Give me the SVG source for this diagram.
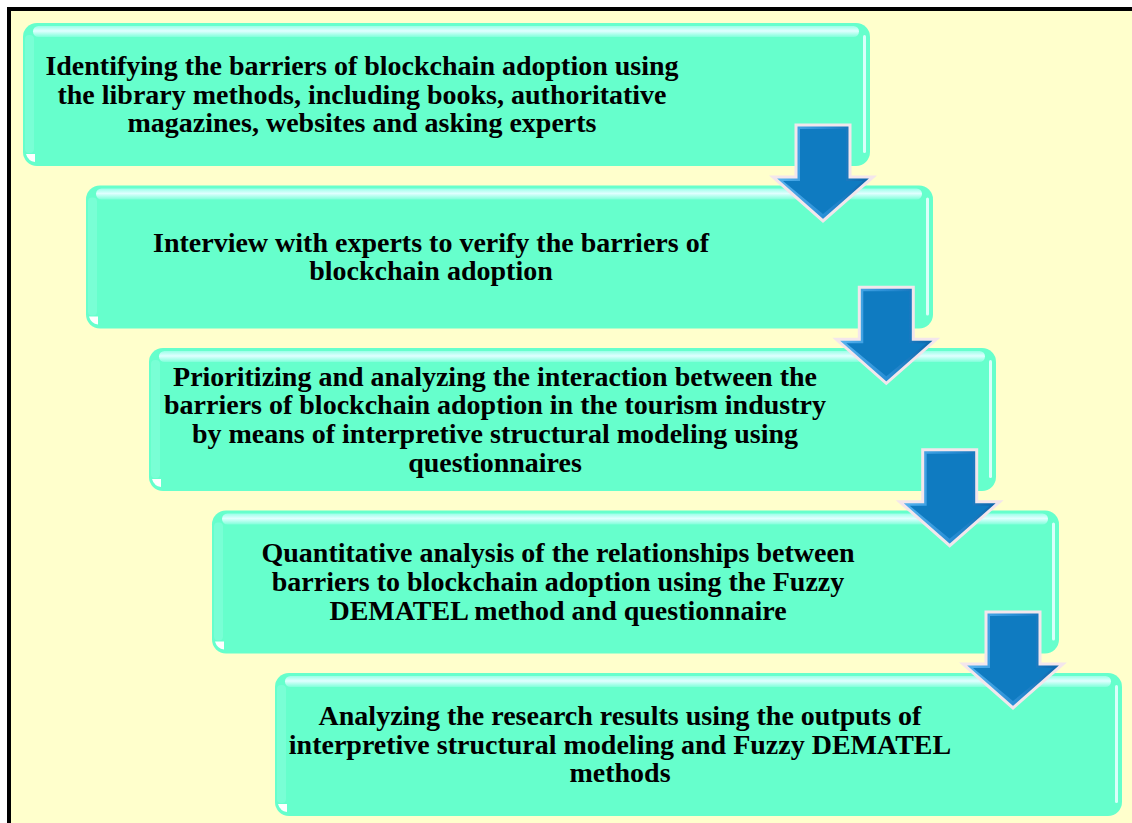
<svg xmlns="http://www.w3.org/2000/svg" xmlns:xlink="http://www.w3.org/1999/xlink" width="1132" height="823" viewBox="0 0 1132 823">
<style>
.frame{fill:#FFFFCC;stroke:#000000;stroke-width:4}
.box{fill:#66FFCC}
.top{fill:url(#gTop)}
.lft{fill:#88FFDD;opacity:0.55}
.rgt{fill:#E6FFFF;opacity:0.9}
.bl{fill:#FFFFFF}
.lbl{font-family:"Liberation Serif","Times New Roman",serif;font-weight:bold;font-size:28px;fill:#000000;text-anchor:middle}
.arOut{fill:url(#gArrow);stroke:#F3E6EC;stroke-width:3;stroke-linejoin:miter}
.arIn{fill:#0F7BC1}
</style>
<defs>
<linearGradient id="gTop" x1="0" y1="0" x2="0" y2="1">
<stop offset="0" stop-color="#9AFFE8"/>
<stop offset="0.45" stop-color="#E0FFFF"/>
<stop offset="1" stop-color="#80FFDA"/>
</linearGradient>
<linearGradient id="gArrow" x1="0" y1="0" x2="1" y2="0">
<stop offset="0" stop-color="#5AB6F0"/>
<stop offset="0.5" stop-color="#2A8FD6"/>
<stop offset="1" stop-color="#0A62A6"/>
</linearGradient>
<g id="boxShape">
<rect class="box" width="847" height="143" rx="14"/>
<rect class="lft" x="2" y="12" width="9" height="118" rx="4"/>
<rect class="top" x="10" y="3" width="826" height="11" rx="5.5"/>
<rect class="rgt" x="840" y="12" width="3" height="118" rx="1.5"/>
<path class="bl" d="M3,131 L12,131 L12,139 Q5,138 3,131Z"/>
</g>
<g id="arrowShape">
<polygon class="arOut" points="-27,0 27,0 27,52 50,52 0,96 -50,52 -27,52"/>
<polygon class="arIn" points="-23,4 23,4 23,56 40,56 0,89 -40,56 -23,56"/>
</g>
</defs>
<rect class="frame" x="9" y="9" width="1130" height="820"/>

<g id="node1" transform="translate(23,23)">
<use xlink:href="#boxShape" href="#boxShape"/>
<text class="lbl" x="339" y="51.8">Identifying the barriers of blockchain adoption using</text>
<text class="lbl" x="339" y="80.5">the library methods, including books, authoritative</text>
<text class="lbl" x="339" y="109.2">magazines, websites and asking experts</text>
</g>
<g id="node2" transform="translate(86,185.5)">
<use xlink:href="#boxShape" href="#boxShape"/>
<text class="lbl" x="345" y="66.2">Interview with experts to verify the barriers of</text>
<text class="lbl" x="345" y="94.9">blockchain adoption</text>
</g>
<g id="node3" transform="translate(149,348)">
<use xlink:href="#boxShape" href="#boxShape"/>
<text class="lbl" x="346" y="37.5">Prioritizing and analyzing the interaction between the</text>
<text class="lbl" x="346" y="66.2">barriers of blockchain adoption in the tourism industry</text>
<text class="lbl" x="346" y="94.9">by means of interpretive structural modeling using</text>
<text class="lbl" x="346" y="123.6">questionnaires</text>
</g>
<g id="node4" transform="translate(212,510.5)">
<use xlink:href="#boxShape" href="#boxShape"/>
<text class="lbl" x="346" y="51.8">Quantitative analysis of the relationships between</text>
<text class="lbl" x="346" y="80.5">barriers to blockchain adoption using the Fuzzy</text>
<text class="lbl" x="346" y="109.2">DEMATEL method and questionnaire</text>
</g>
<g id="node5" transform="translate(275,673)">
<use xlink:href="#boxShape" href="#boxShape"/>
<text class="lbl" x="345" y="51.8">Analyzing the research results using the outputs of</text>
<text class="lbl" x="345" y="80.5">interpretive structural modeling and Fuzzy DEMATEL</text>
<text class="lbl" x="345" y="109.2">methods</text>
</g>

<g id="connectors">
<use xlink:href="#arrowShape" href="#arrowShape" transform="translate(823,125)"/>
<use xlink:href="#arrowShape" href="#arrowShape" transform="translate(886.3,287.3)"/>
<use xlink:href="#arrowShape" href="#arrowShape" transform="translate(949.7,449.7)"/>
<use xlink:href="#arrowShape" href="#arrowShape" transform="translate(1013,612)"/>
</g>
</svg>
